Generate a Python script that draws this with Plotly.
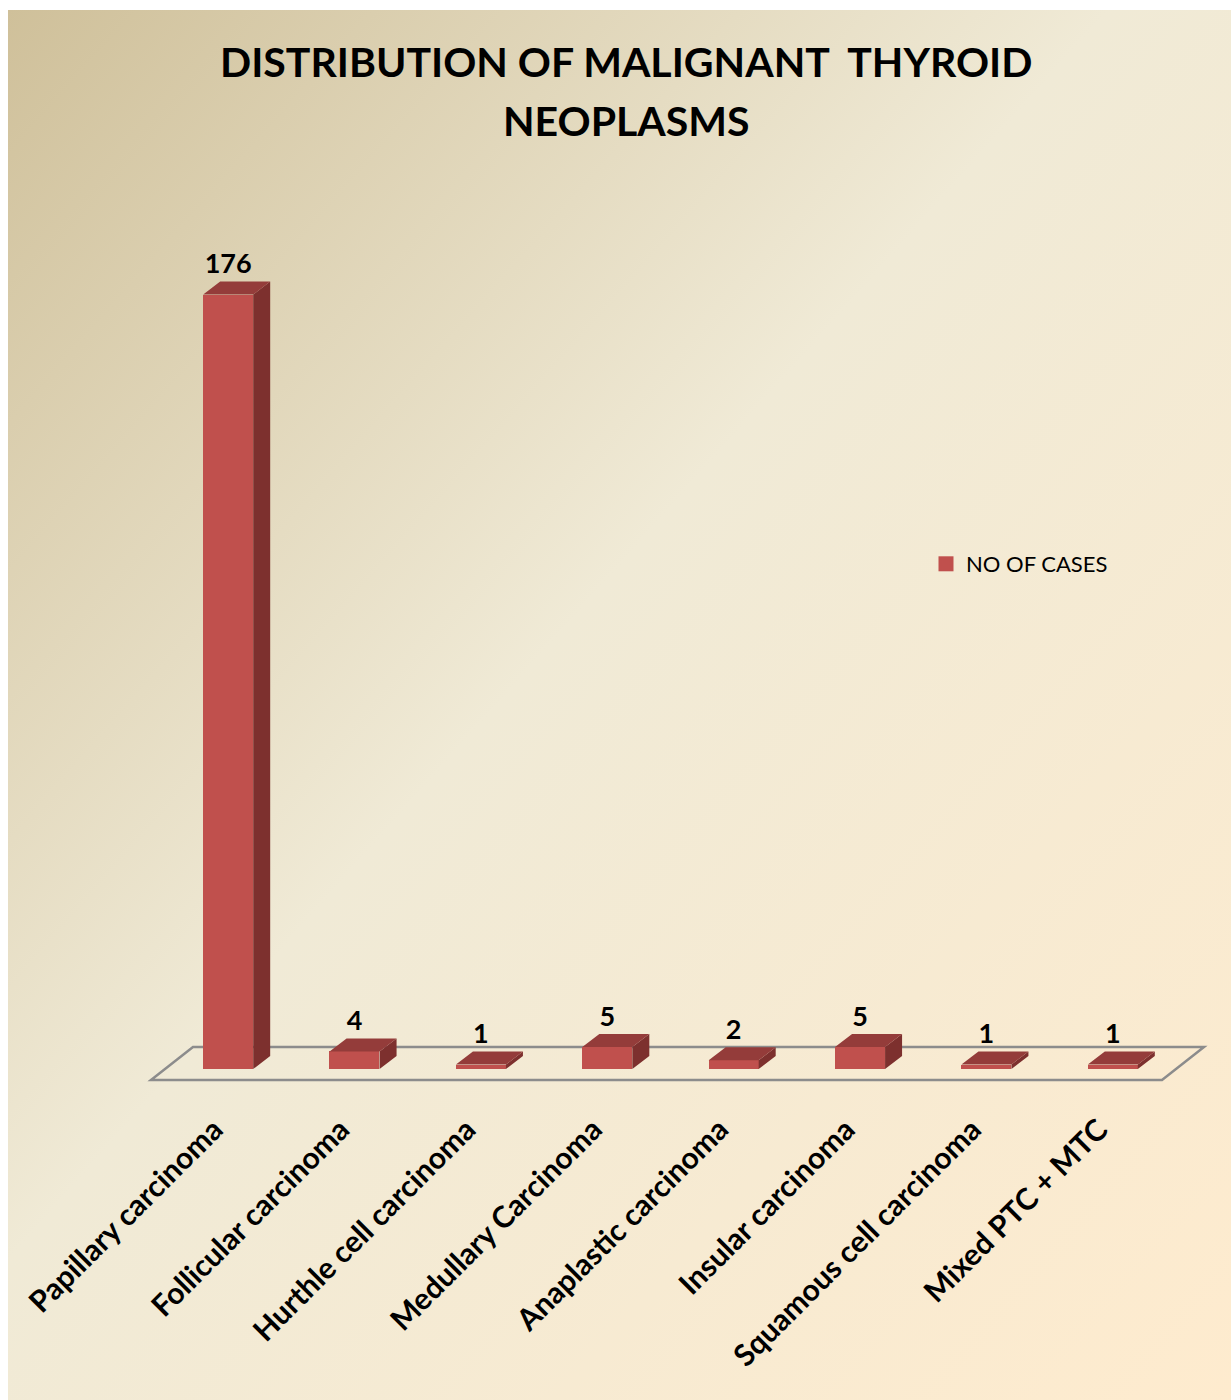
import base64
import plotly.graph_objects as go

# ---- data ----
categories = [
    "Papillary carcinoma",
    "Follicular carcinoma",
    "Hurthle cell carcinoma",
    "Medullary Carcinoma",
    "Anaplastic carcinoma",
    "Insular carcinoma",
    "Squamous cell carcinoma",
    "Mixed PTC + MTC",
]
cases = [176, 4, 1, 5, 2, 5, 1, 1]
series_name = "NO OF CASES"
title_lines = ["DISTRIBUTION OF MALIGNANT\u00a0 THYROID", "NEOPLASMS"]

# ---- page / scale geometry ----
W, H = 1231, 1400
X_PX = 126.375          # pixels per category step
Y_PX = 4.4              # pixels per case
X0_PX = 165             # pixel of category -0.5 on the bar front plane
Y0_PX = 1069            # pixel of value 0 on the bar front plane
x_range = [-0.8, 7.9]
y_range = [-(H - Y0_PX) / Y_PX, Y0_PX / Y_PX]
x_dom = [(X0_PX + (x_range[0] + 0.5) * X_PX) / W, (X0_PX + (x_range[1] + 0.5) * X_PX) / W]

bar_w = 50 / X_PX
dep_x = 17 / X_PX       # 3-D depth of each bar
dep_y = 13 / Y_PX
floor_front_dx, floor_front_dy = -14 / X_PX, -11 / Y_PX
floor_back_dx, floor_back_dy = 28 / X_PX, 22 / Y_PX

FRONT = "#C0504D"
TOP = "#943C3A"
SIDE = "#7D302E"
FONT = "Lato"

idx = list(range(len(categories)))

# side and top faces of the 3-D boxes
side_x, side_y, top_x, top_y = [], [], [], []
for i, v in zip(idx, cases):
    r = i + bar_w / 2
    l = i - bar_w / 2
    side_x += [r, r + dep_x, r + dep_x, r, r, None]
    side_y += [0, dep_y, v + dep_y, v, 0, None]
    top_x += [l, l + dep_x, r + dep_x, r, l, None]
    top_y += [v, v + dep_y, v + dep_y, v, v, None]

fig = go.Figure()
fig.add_trace(go.Bar(
    x=idx, y=cases, width=bar_w, marker=dict(color=FRONT, line=dict(width=0)),
    showlegend=False, hoverinfo="skip",
))
fig.add_trace(go.Scatter(
    x=side_x, y=side_y, mode="none", fill="toself", fillcolor=SIDE,
    showlegend=False, hoverinfo="skip",
))
fig.add_trace(go.Scatter(
    x=top_x, y=top_y, mode="none", fill="toself", fillcolor=TOP,
    showlegend=False, hoverinfo="skip",
))
# value labels above each box
fig.add_trace(go.Scatter(
    x=idx, y=[v + 28 / Y_PX for v in cases], mode="text",
    text=[str(v) for v in cases], textposition="middle center",
    textfont=dict(family=FONT, size=27, color="black", weight="bold"),
    showlegend=False, hoverinfo="skip",
))
# legend entry
fig.add_trace(go.Scatter(
    x=[None], y=[None], mode="markers", name=series_name,
    marker=dict(symbol="square", size=15, color=FRONT),
))

# floor of the 3-D chart
x_lo, x_hi = -0.5, len(categories) - 0.5
floor_path = (
    f"M {x_lo + floor_front_dx},{floor_front_dy} "
    f"L {x_hi + floor_front_dx},{floor_front_dy} "
    f"L {x_hi + floor_back_dx},{floor_back_dy} "
    f"L {x_lo + floor_back_dx},{floor_back_dy} Z"
)
fig.add_shape(type="path", path=floor_path, xref="x", yref="y",
              line=dict(color="#8C8C8C", width=2.5), layer="below")

# diagonal background gradient
svg = f"""<svg xmlns='http://www.w3.org/2000/svg' width='{W - 8}' height='{H - 10}' preserveAspectRatio='none'>
<defs><linearGradient id='g' x1='0' y1='0' x2='1' y2='1'>
<stop offset='0' stop-color='#CFC09A'/>
<stop offset='0.45' stop-color='#F0EAD6'/>
<stop offset='1' stop-color='#FEEBCE'/>
</linearGradient></defs>
<rect width='100%' height='100%' fill='url(#g)'/></svg>"""
bg_src = "data:image/svg+xml;base64," + base64.b64encode(svg.encode()).decode()
fig.add_layout_image(dict(
    source=bg_src, xref="paper", yref="paper", x=8 / W, y=1 - 10 / H,
    sizex=(W - 8) / W, sizey=(H - 10) / H, xanchor="left", yanchor="top",
    sizing="stretch", layer="below",
))

for k, line in enumerate(title_lines):
    fig.add_annotation(
        text=f"<b>{line}</b>", xref="paper", yref="paper",
        x=626 / W, y=1 - (62 + 58 * k) / H, xanchor="center", yanchor="middle",
        showarrow=False, font=dict(family=FONT, size=41, color="black"),
    )

fig.update_layout(
    width=W, height=H, margin=dict(l=0, r=0, t=0, b=0, autoexpand=False),
    paper_bgcolor="white", plot_bgcolor="rgba(0,0,0,0)",
    bargap=0,
    xaxis=dict(
        range=x_range, domain=x_dom, anchor="free", position=(H - 1105) / H,
        tickvals=idx, ticktext=categories, tickangle=-45, automargin=False,
        ticklabelshift=-14,
        tickfont=dict(family=FONT, size=30, color="black", weight="bold"),
        showgrid=False, zeroline=False, showline=False, ticks="",
    ),
    yaxis=dict(range=y_range, domain=[0, 1], visible=False, automargin=False),
    legend=dict(
        x=926 / W, y=1 - 564 / H, xanchor="left", yanchor="middle",
        bgcolor="rgba(0,0,0,0)", font=dict(family=FONT, size=22, color="black"),
        itemsizing="trace",
    ),
)

fig.write_html("out.html")
